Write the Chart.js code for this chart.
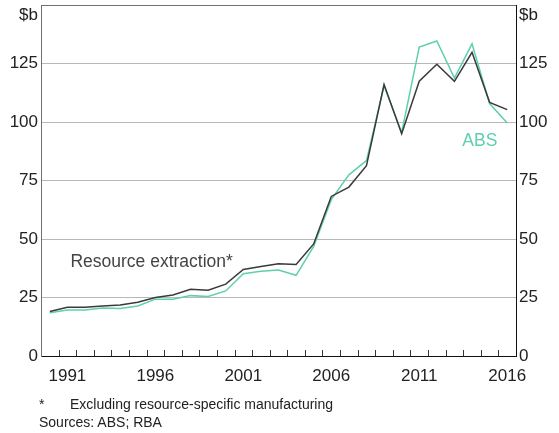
<!DOCTYPE html>
<html>
<head>
<meta charset="utf-8">
<script src="https://cdn.jsdelivr.net/npm/chart.js@4"></script>
<style>
  body { margin: 0; background: #fff; }
  #wrap { position: relative; width: 559px; height: 433px; }
  .note { position: absolute; font: 14px Arial, 'Liberation Sans', sans-serif; color: #222; line-height: 16px; white-space: nowrap; }
</style>
</head>
<body>
<div id="wrap">
  <canvas id="chart" width="559" height="433"></canvas>
  <div class="note" style="left:39px; top:396px;">*</div>
  <div class="note" style="left:70px; top:396px;">Excluding resource-specific manufacturing</div>
  <div class="note" style="left:39px; top:414px;">Sources: ABS; RBA</div>
</div>
<script>
const years = [
  '1990', '1991', '1992', '1993', '1994', '1995', '1996', '1997', '1998',
  '1999', '2000', '2001', '2002', '2003', '2004', '2005', '2006', '2007',
  '2008', '2009', '2010', '2011', '2012', '2013', '2014', '2015', '2016'
];
// resource extraction investment, $b
const resourceExtraction = [
  19.0, 20.8, 20.8, 21.4, 21.8, 23.0, 25.0, 26.1, 28.5,
  28.1, 30.7, 37.0, 38.2, 39.4, 39.1, 47.9, 68.2, 72.2,
  81.3, 116.0, 95.0, 117.4, 124.7, 117.4, 129.8, 108.4, 105.3
];
const absSeries = [
  18.5, 19.7, 19.7, 20.5, 20.3, 21.4, 24.3, 24.3, 25.8,
  25.4, 27.8, 35.2, 36.2, 36.7, 34.5, 46.8, 66.8, 77.4,
  83.5, 115.5, 95.5, 132.0, 134.6, 118.8, 133.4, 107.9, 99.6
];
const yTicks = [0, 25, 50, 75, 100, 125, 150];
const shownYears = ['1991', '1996', '2001', '2006', '2011', '2016'];

const FONT = "Arial, 'Liberation Sans', sans-serif";
const BLACK = '#3a3a3a';
const TEAL = '#5fcfb0';

const yLabel = v => (v === 150 ? ['', '$b'] : String(v));

// small tick marks pointing up into the plot, plus the text labels
const extras = {
  id: 'extras',
  afterDraw(chart) {
    const { ctx } = chart;
    const xs = chart.scales.x;
    const ys = chart.scales.y;
    ctx.save();
    ctx.strokeStyle = '#333';
    ctx.lineWidth = 1;
    ctx.beginPath();
    for (let i = 1; i < years.length; i++) {
      const x = Math.round((xs.getPixelForValue(i - 1) + xs.getPixelForValue(i)) / 2) + 0.5;
      ctx.moveTo(x, ys.bottom - 6);
      ctx.lineTo(x, ys.bottom);
    }
    ctx.stroke();

    ctx.font = '17.5px ' + FONT;
    ctx.textBaseline = 'middle';
    ctx.fillStyle = '#444';
    ctx.textAlign = 'left';
    ctx.fillText('Resource extraction*', xs.getPixelForValue(1) + 3, ys.getPixelForValue(40.2));
    ctx.fillStyle = TEAL;
    ctx.textAlign = 'center';
    ctx.fillText('ABS', (xs.getPixelForValue(24) + xs.getPixelForValue(25)) / 2 - 1, ys.getPixelForValue(91.6));
    ctx.restore();
  }
};

const noPad = s => { s.paddingTop = 0; s.paddingBottom = 0; s.paddingLeft = 0; s.paddingRight = 0; };

const ctx = document.querySelector('#chart').getContext('2d');
new Chart(ctx, {
  type: 'line',
  data: {
    labels: years,
    datasets: [{
      label: 'Resource extraction',
      data: resourceExtraction,
      borderColor: BLACK,
      borderWidth: 1.5,
      pointRadius: 0,
      tension: 0,
      order: 0
    }, {
      label: 'ABS',
      data: absSeries,
      borderColor: TEAL,
      borderWidth: 1.5,
      pointRadius: 0,
      tension: 0,
      order: 1
    }]
  },
  options: {
    responsive: false,
    animation: false,
    layout: { padding: { top: 5, bottom: 47, left: 0, right: 0 } },
    plugins: {
      legend: { display: false },
      tooltip: { enabled: false }
    },
    scales: {
      x: {
        type: 'category',
        offset: true,
        grid: { display: false },
        border: { display: true, color: '#111', width: 1 },
        ticks: {
          autoSkip: false,
          maxRotation: 0,
          padding: 2,
          color: '#222',
          font: { family: FONT, size: 17 },
          callback: (v, i) => (shownYears.includes(years[i]) ? years[i] : '')
        },
        afterFit: s => { s.height = 30; noPad(s); }
      },
      y: {
        position: 'left',
        min: 0,
        max: 150,
        afterBuildTicks: s => { s.ticks = yTicks.map(value => ({ value })); },
        grid: {
          drawTicks: false,
          lineWidth: 1,
          color: c => (c.tick.value === 150 ? '#707070' : c.tick.value === 0 ? 'rgba(0,0,0,0)' : '#b8b8b8')
        },
        border: { display: true, color: '#707070', width: 1 },
        ticks: {
          padding: 3,
          color: '#222',
          font: { family: FONT, size: 17 },
          callback: yLabel
        },
        afterFit: s => { s.width = 41; noPad(s); }
      },
      y2: {
        position: 'right',
        min: 0,
        max: 150,
        afterBuildTicks: s => { s.ticks = yTicks.map(value => ({ value })); },
        grid: { drawOnChartArea: false, drawTicks: false },
        border: { display: true, color: '#111', width: 1 },
        ticks: {
          padding: 3,
          color: '#222',
          font: { family: FONT, size: 17 },
          callback: yLabel
        },
        afterFit: s => { s.width = 43; noPad(s); }
      }
    }
  },
  plugins: [extras]
});
</script>
</body>
</html>
